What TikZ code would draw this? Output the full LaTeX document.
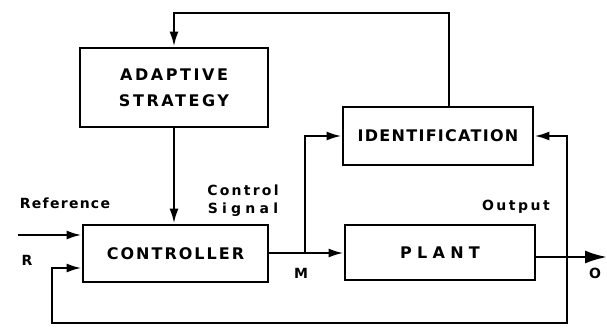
\documentclass[tikz,border=0pt]{standalone}
\usepackage{fontspec}
\setmainfont{DejaVu Sans}[BoldFont={DejaVu Sans Bold}]
\usetikzlibrary{arrows.meta}
\begin{document}
\begin{tikzpicture}[x=1pt,y=-1pt,
  line width=2.4pt,
  every node/.style={font=\bfseries},
  block/.style={draw,rectangle,inner sep=0pt,line width=2.8pt},
  boxtext/.style={font=\fontsize{16}{20}\selectfont\bfseries\addfontfeatures{LetterSpace=#1}},
  boxtext/.default=16,
  lbl/.style={font=\fontsize{14}{16}\selectfont\bfseries\addfontfeatures{LetterSpace=#1}},
  lbl/.default=16,
  arr/.style={-{Latex[length=15pt,width=9pt]}},
  bigarr/.style={-{Latex[length=22pt,width=13pt]}}
]
\useasboundingbox (0,0) rectangle (607,327);

% blocks
\node[block,minimum width=188pt,minimum height=79pt,align=center,
      boxtext] (adapt) at (174,87.5)
      {ADAPTIVE\\[6pt]STRATEGY};
\node[block,minimum width=190pt,minimum height=58pt,boxtext=8] (ident) at (438,136) {IDENTIFICATION};
\node[block,minimum width=185pt,minimum height=57pt,boxtext=12.5] (ctrl) at (175.5,253.5) {CONTROLLER};
\node[block,minimum width=190pt,minimum height=55pt,boxtext=33] (plant) at (440,252.5) {PLANT};

% helper points
\coordinate (j) at (305,253);
\coordinate (o) at (607,257);
\coordinate (fb) at (567,257);
\coordinate (bot) at (567,323);
\coordinate (refin) at (18,235);
\coordinate (fbin) at (52,268);
\coordinate (top) at (449,13);

% signal paths
\draw[arr] (ctrl.east |- j) -- (plant.west |- j);
\draw[arr] (j) |- (ident.west);
\draw[bigarr] (plant.east |- o) -- (o);
\draw[arr] (fb) |- (ident.east);
\draw[arr] (fb) -- (bot) -| (fbin) -- (ctrl.west |- fbin);
\draw[arr] (refin) -- (ctrl.west |- refin);
\draw[arr] (adapt.south) -- (adapt.south |- ctrl.north);
\draw[arr] (top |- ident.north) -- (top) -| (adapt.north);

% labels
\node[lbl] (lctl) at (243,190) {Control};
\node[lbl=30] (lsig) at (243,210) {Signal};
\node[lbl=9] (lref) at (65,203) {Reference};
\node[lbl] (lr) at (27,260) {R};
\node[lbl] (lm) at (301,273) {M};
\node[lbl=18] (lout) at (516,207) {Output};
\node[lbl] (lo) at (595,273) {O};
\end{tikzpicture}
\end{document}
